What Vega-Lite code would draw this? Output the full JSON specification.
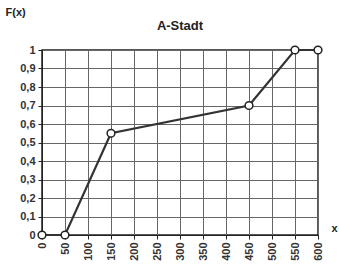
{
  "$schema": "https://vega.github.io/schema/vega-lite/v6.json",
  "width": 276,
  "height": 185,
  "autosize": {"type": "none"},
  "padding": {"left": 42, "top": 50, "right": 21, "bottom": 35},
  "background": "white",
  "title": {"text": "A-Stadt", "fontSize": 13, "font": "Liberation Sans", "fontWeight": "bold", "color": "#222", "anchor": "middle", "offset": -27},
  "data": {"values": [
    {"x": 0, "F": 0},
    {"x": 50, "F": 0},
    {"x": 150, "F": 0.55},
    {"x": 450, "F": 0.7},
    {"x": 550, "F": 1},
    {"x": 600, "F": 1}
  ]},
  "config": {
    "view": {"stroke": "#222", "strokeWidth": 1.5},
    "axis": {"labelFont": "Liberation Sans", "labelFontSize": 11, "labelFontWeight": "bold", "labelColor": "#333", "titleFont": "Liberation Sans", "titleColor": "#222", "gridColor": "#666", "gridOpacity": 1, "gridWidth": 1, "domainColor": "#222", "tickColor": "#222", "tickSize": 4, "labelOverlap": false, "labelFlush": false}
  },
  "encoding": {
    "x": {"field": "x", "type": "quantitative", "scale": {"domain": [0, 600], "nice": false},
      "axis": {"values": [0,50,100,150,200,250,300,350,400,450,500,550,600], "labelAngle": -90, "labelAlign": "right", "labelBaseline": "middle", "labelPadding": 3, "title": "x", "titleAngle": 0, "titleX": 292, "titleY": -7, "titleAlign": "center", "titleBaseline": "middle", "titleFontSize": 11, "titleFontWeight": "bold"}},
    "y": {"field": "F", "type": "quantitative", "scale": {"domain": [0, 1], "nice": false},
      "axis": {"values": [0,0.1,0.2,0.3,0.4,0.5,0.6,0.7,0.8,0.9,1], "labelExpr": "replace(format(datum.value, '.1~f'), '.', ',')", "labelPadding": 3, "title": "F(x)", "titleAngle": 0, "titleX": -37, "titleY": -38, "titleAlign": "left", "titleBaseline": "middle", "titleFontSize": 11, "titleFontWeight": "bold"}}
  },
  "layer": [
    {
      "mark": {"type": "line", "color": "#333", "strokeWidth": 2.2}
    },
    {
      "mark": {"type": "point", "shape": "circle", "filled": true, "fill": "white", "stroke": "#222", "strokeWidth": 1.5, "size": 60, "opacity": 1}
    }
  ]
}
